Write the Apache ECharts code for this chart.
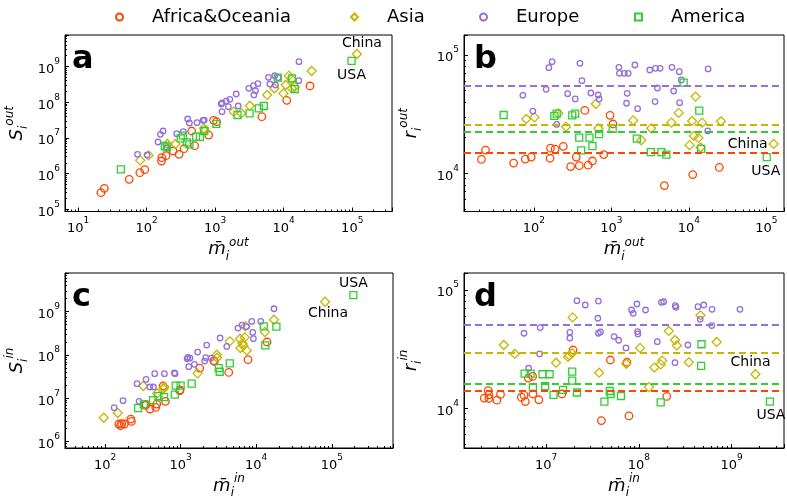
<!DOCTYPE html>
<html>
<head>
<meta charset="utf-8">
<script src="https://cdn.jsdelivr.net/npm/echarts@6/dist/echarts.min.js"></script>
<style>
  html, body { margin: 0; padding: 0; background: #fff; }
  #main { width: 787px; height: 500px; }
</style>
</head>
<body>
<div id="main"></div>
<script>
/* values: [mean mass, S] / [mean mass, r] */
var continents = ['Africa&Oceania', 'Asia', 'Europe', 'America'];

// panel a : S_out vs m_out
var aAfrica = [[21.6,2.96e5],[24.2,3.91e5],[55.8,6.98e5],[79.8,1.07e6],[94.4,1.30e6],[165,2.27e6],[167,2.82e6],[193,3.21e6],[244,4.33e6],[298,3.49e6],[352,5.03e6],[455,1.57e7],[503,6.11e6],[804,1.21e7],[951,3.12e7],[1050,2.86e7],[4800,3.95e7],[11100,1.13e8],[24200,2.85e8]];
var aAsia = [[80.7,2.37e6],[107,3.27e6],[201,6.79e6],[264,6.79e6],[688,1.86e7],[704,1.60e7],[1860,5.46e7],[2400,4.90e7],[3210,8.02e7],[5740,1.60e8],[7330,2.45e8],[9910,1.77e8],[10700,3.04e8],[11900,5.55e8],[13000,4.47e8],[13100,2.45e8],[14500,2.73e8],[25600,7.48e8],[117000,2.24e9]];
var aEurope = [[73.8,3.49e6],[102,3.34e6],[147,7.73e6],[159,1.27e7],[174,1.57e7],[197,5.25e6],[275,1.32e7],[344,1.50e7],[398,3.40e7],[421,2.63e7],[544,2.69e7],[665,3.12e7],[695,3.18e7],[1230,8.93e7],[1260,9.53e7],[1260,5.46e7],[1450,1.08e8],[1560,7.52e7],[1640,1.21e8],[2030,1.70e8],[2170,7.85e7],[3100,2.45e8],[3630,2.91e8],[3880,2.11e8],[4200,3.31e8],[3670,1.60e8],[6000,4.98e8],[6280,3.24e8],[7420,5.55e8],[7590,3.04e8],[8300,4.88e8],[16700,1.36e9],[16600,4.02e8]];
var aAmerica = [[42.2,1.33e6],[184,5.97e6],[197,5.48e6],[315,9.79e6],[340,1.16e7],[385,7.57e6],[421,6.65e6],[526,1.09e7],[601,1.07e7],[695,1.57e7],[1040,2.47e7],[2120,4.40e7],[3180,4.90e7],[4340,6.76e7],[5130,7.85e7],[8200,4.88e8],[13200,4.67e8],[14500,2.35e8],[97700,1.43e9]];

// panel b : r_out vs m_out
var bAfrica = [[21.1,13100],[23.8,15700],[54.8,12200],[77.4,13200],[92.5,13700],[162,13400],[164,16300],[188,16000],[240,16900],[298,11400],[352,13700],[385,11600],[455,34000],[502,11700],[570,12700],[798,14400],[962,30900],[1050,26100],[4830,7870],[11200,9750],[24700,11200]];
var bAsia = [[79.8,28800],[102,29700],[207,32100],[260,24800],[630,38500],[681,24000],[1910,28000],[2430,19000],[3260,24000],[5940,26800],[7380,32400],[10200,17300],[11000,27700],[11600,20700],[12200,44500],[13300,19900],[14100,16500],[14800,26800],[26000,27500],[124000,17700]];
var bEurope = [[72.2,45600],[97.1,33600],[144,51300],[156,78200],[172,87800],[197,25900],[273,47100],[342,42500],[393,85100],[417,60700],[544,47700],[675,45900],[695,42500],[1250,78700],[1270,70000],[1470,70000],[1650,70000],[1600,47400],[1570,39100],[2010,82300],[2180,35200],[3130,74700],[3700,77100],[4250,77100],[3930,52600],[3660,40400],[6050,78700],[6360,49600],[7510,72300],[7980,61500],[7590,39500],[17500,22800],[17700,76200]];
var bAmerica = [[40.8,31100],[184,30600],[197,31900],[313,30900],[342,31900],[385,20000],[408,15600],[522,20000],[570,17000],[695,21400],[1040,23800],[2130,19600],[3230,15100],[4420,15100],[5120,14400],[8550,58400],[13600,33900],[14400,16100],[101000,13700]];
var bMeans = [14900, 25600, 54700, 22300];

// panel c : S_in vs m_in
var cAfrica = [[152,2.56e6],[160,2.34e6],[166,2.60e6],[180,2.56e6],[219,3.33e6],[223,2.94e6],[342,6.89e6],[349,7.27e6],[394,5.68e6],[468,6.20e6],[483,7.39e6],[586,1.93e7],[629,8.53e6],[973,1.50e7],[982,1.56e7],[1790,5.01e7],[2740,7.39e7],[2800,7.14e7],[4330,3.98e7],[7800,7.80e7],[13900,2.00e8]];
var cAsia = [[96,3.58e6],[147,4.59e6],[321,1.93e7],[488,1.30e7],[610,1.83e7],[597,1.67e7],[1680,3.78e7],[3010,1.02e8],[3030,8.68e7],[4470,2.07e8],[6110,2.38e8],[6180,1.45e8],[6560,1.86e8],[6770,1.64e8],[7050,2.56e8],[7200,4.59e8],[7500,1.28e8],[13000,3.40e8],[17200,6.53e8],[81500,1.70e9]];
var cEurope = [[132,6.09e6],[173,8.83e6],[265,2.18e7],[282,8.53e6],[349,2.74e7],[390,1.83e7],[436,1.83e7],[454,3.71e7],[610,3.71e7],[828,3.85e7],[844,3.71e7],[1220,8.22e7],[1250,8.83e7],[1330,8.53e7],[1280,5.38e7],[1520,6.09e7],[1680,1.17e8],[2080,7.27e7],[2150,8.68e7],[2210,1.70e8],[2530,8.53e7],[3330,2.47e8],[4080,1.58e8],[5750,4.20e8],[6500,4.92e8],[7420,4.51e8],[8730,5.98e8],[9000,3.33e8],[9180,2.38e8],[11500,5.98e8],[17200,1.17e9]];
var cAmerica = [[274,5.98e6],[325,7.27e6],[432,9.16e6],[508,1.13e7],[604,1.07e7],[836,1.22e7],[861,1.96e7],[1000,1.96e7],[1400,2.18e7],[3190,5.01e7],[3290,4.12e7],[4470,6.43e7],[12600,4.59e8],[13200,1.67e8],[18500,4.51e8],[193000,2.42e9]];

// panel d : r_in vs m_in
var dAfrica = [[2.15e6,12200],[2.37e6,14100],[2.41e6,13000],[2.41e6,12100],[2.94e6,11700],[3.22e6,13100],[5.40e6,12400],[5.77e6,12900],[5.96e6,11400],[6.41e6,18000],[7.14e6,18600],[7.20e6,13200],[8.34e6,11800],[1.48e7,13200],[1.95e7,31100],[4.93e7,25600],[3.94e7,7870],[7.43e7,24500],[7.82e7,8610],[2.00e8,12600]];
var dAsia = [[3.49e6,34300],[4.58e6,28800],[1.28e7,24300],[1.72e7,27200],[1.78e7,28000],[1.90e7,29200],[1.93e7,58700],[3.73e7,20000],[7.31e7,23800],[1.03e8,32400],[1.28e8,15100],[1.47e8,22100],[1.72e8,23500],[1.78e8,25300],[2.10e8,45100],[2.45e8,37800],[2.57e8,34000],[3.46e8,24500],[4.61e8,61100],[6.90e8,36400],[1.81e9,19400]];
var dEurope = [[5.77e6,43100],[6.47e6,21800],[8.63e6,48100],[8.49e6,28800],[1.80e7,43900],[1.80e7,39300],[2.15e7,81200],[2.64e7,74700],[3.61e7,57700],[3.66e7,43100],[3.85e7,44200],[3.66e7,80700],[5.40e7,40400],[6.05e7,37600],[7.26e7,32400],[8.34e7,67800],[8.69e7,63500],[9.52e7,76200],[9.68e7,44500],[9.76e7,42500],[1.18e8,67800],[1.58e8,36600],[1.75e8,78700],[1.85e8,79600],[2.47e8,73800],[2.51e8,71400],[2.45e8,24300],[3.38e8,34300],[4.33e8,72300],[4.58e8,56500],[5.01e8,74700],[6.15e8,68700],[6.11e8,50000],[1.23e9,68700]];
var dAmerica = [[5.86e6,19600],[6.79e6,19600],[7.20e6,15000],[9.14e6,19400],[1.09e7,19400],[9.75e6,15400],[1.20e7,13000],[1.52e7,14300],[1.91e7,20400],[1.91e7,17100],[2.15e7,13600],[4.25e7,11400],[4.85e7,14000],[4.97e7,13200],[6.41e7,12700],[1.72e8,11200],[4.73e8,34800],[4.69e8,22800],[2.59e9,11400]];
var dMeans = [14000, 29200, 51300, 16100];

var colors = ['#ff4500', '#c9b400', '#9370db', '#32cd32'];
var symbols = ['circle', 'diamond', 'circle', 'rect'];
var sizes = [7.5, 9, 5.5, 7];
var font = 'DejaVu Sans';

var echart = echarts.init(document.getElementById('main'));

function powLabel(v) {
    var e = Math.log10(v);
    var r = Math.round(e);
    if (Math.abs(e - r) > 1e-6) return '';
    return '{b|10}{s|' + r + '}';
}
var tickRich = {
    b: { fontSize: 13, fontFamily: font, color: '#000', lineHeight: 19, verticalAlign: 'bottom' },
    s: { fontSize: 9, fontFamily: font, color: '#000', lineHeight: 9, verticalAlign: 'top' }
};
var nameRich = {
    m: { fontSize: 18, fontFamily: font, fontStyle: 'italic', color: '#000', lineHeight: 26, verticalAlign: 'middle' },
    sub: { fontSize: 12, fontFamily: font, fontStyle: 'italic', color: '#000', lineHeight: 10, verticalAlign: 'bottom' },
    sup: { fontSize: 12, fontFamily: font, fontStyle: 'italic', color: '#000', lineHeight: 12, verticalAlign: 'top' }
};

function makeAxis(idx, lo, hi, name, gap) {
    return {
        type: 'log', logBase: 10, gridIndex: idx,
        min: Math.pow(10, lo), max: Math.pow(10, hi),
        name: name, nameLocation: 'middle', nameGap: gap,
        nameTextStyle: { rich: nameRich },
        axisLine: { lineStyle: { color: '#000', width: 1 } },
        axisTick: { inside: true, length: 4, lineStyle: { color: '#000' } },
        minorTick: { show: true, splitNumber: 9, length: 2, lineStyle: { color: '#000' } },
        axisLabel: { formatter: powLabel, rich: tickRich, margin: 5 },
        splitLine: { show: false }
    };
}

var grids = [
    { left: 65, top: 35, width: 327, height: 176.5 },
    { left: 464, top: 35, width: 322, height: 176.5 },
    { left: 65, top: 273, width: 328, height: 175 },
    { left: 464, top: 273, width: 322, height: 175 }
];
grids.forEach(function (g) { g.show = true; g.borderColor = '#000'; g.borderWidth = 1; });

var xAxes = [
    makeAxis(0, 0.81, 5.58, '{m|m\u0304}{sub|i}{sup|out}', 24),
    makeAxis(1, 1.099, 5.227, '{m|m\u0304}{sub|i}{sup|out}', 24),
    makeAxis(2, 1.47, 5.81, '{m|m\u0304}{sub|i}{sup|in}', 24),
    makeAxis(3, 6.114, 9.565, '{m|m\u0304}{sub|i}{sup|in}', 24)
];
var yAxes = [
    makeAxis(0, 4.944, 9.881, '{m|S}{sub|i}{sup|out}', 35),
    makeAxis(1, 3.677, 5.169, '{m|r}{sub|i}{sup|out}', 40),
    makeAxis(2, 5.855, 9.893, '{m|S}{sub|i}{sup|in}', 35),
    makeAxis(3, 3.664, 5.144, '{m|r}{sub|i}{sup|in}', 40)
];

var panels = [
    { data: [aAfrica, aAsia, aEurope, aAmerica], labels: { 1: ['China', [5, -11]], 3: ['USA', [0, 14]] } },
    { data: [bAfrica, bAsia, bEurope, bAmerica], means: bMeans, labels: { 1: ['China', [-26, 0]], 3: ['USA', [-1, 14]] } },
    { data: [cAfrica, cAsia, cEurope, cAmerica], labels: { 1: ['China', [3, 12]], 3: ['USA', [0, -12]] } },
    { data: [dAfrica, dAsia, dEurope, dAmerica], means: dMeans, labels: { 1: ['China', [-5, -12]], 3: ['USA', [1, 14]] } }
];

var series = [];
panels.forEach(function (p, pi) {
    p.data.forEach(function (pts, ci) {
        var lab = p.labels[ci];
        var data = pts.map(function (pt, k) {
            if (lab && k === pts.length - 1) {
                return {
                    value: pt,
                    label: { show: true, formatter: lab[0], position: 'inside', offset: lab[1],
                             fontSize: 14, fontFamily: font, color: '#000' }
                };
            }
            return pt;
        });
        var s = {
            name: continents[ci], type: 'scatter',
            xAxisIndex: pi, yAxisIndex: pi,
            symbol: symbols[ci], symbolSize: sizes[ci],
            itemStyle: { color: 'rgba(0,0,0,0)', borderColor: colors[ci], borderWidth: 1.3, opacity: 1 },
            data: data
        };
        if (p.means) {
            s.markLine = {
                silent: true, symbol: 'none', label: { show: false },
                lineStyle: { color: colors[ci], type: [7, 4], width: 2 },
                data: [{ yAxis: p.means[ci] }]
            };
        }
        series.push(s);
    });
});

var legendLefts = [110, 345, 474, 629];
var legends = continents.map(function (c, i) {
    return {
        data: [c], left: legendLefts[i], top: 3,
        itemWidth: 7, itemHeight: 7,
        textStyle: { fontSize: 18, fontFamily: font, color: '#000', padding: [0, 0, 0, 24] }
    };
});

var letters = [['a', 67, 39], ['b', 469, 39], ['c', 67, 277], ['d', 469, 277]].map(function (t) {
    return { text: t[0], left: t[1], top: t[2], textStyle: { fontSize: 32, fontWeight: 'bold', fontFamily: font, color: '#000' } };
});

var option = {
    animation: false,
    backgroundColor: '#fff',
    title: letters,
    legend: legends,
    grid: grids,
    xAxis: xAxes,
    yAxis: yAxes,
    series: series
};
echart.setOption(option);
</script>
</body>
</html>
